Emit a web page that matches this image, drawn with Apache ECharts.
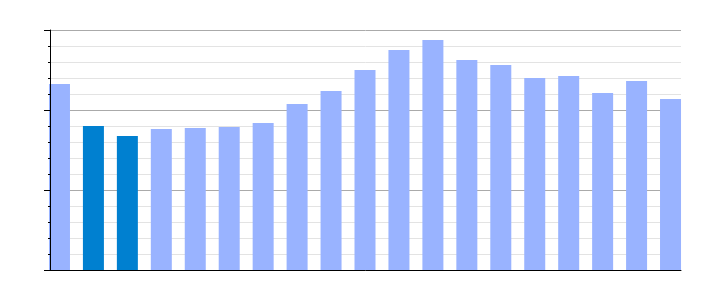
<!DOCTYPE html>
<html>
<head>
<meta charset="utf-8">
<script src="https://cdn.jsdelivr.net/npm/echarts@6/dist/echarts.min.js"></script>
<style>html,body{margin:0;padding:0;background:#fff;}#chart{width:710px;height:300px;}</style>
</head>
<body>
<div id="chart"></div>
<script>
const categories = ['1','2','3','4','5','6','7','8','9','10','11','12','13','14','15','16','17','18','19'];
const values = [2.325, 1.8, 1.675, 1.7625, 1.775, 1.7875, 1.8375, 2.075, 2.2375, 2.5, 2.75, 2.875, 2.625, 2.5625, 2.4, 2.425, 2.2125, 2.3625, 2.1375];
const highlighted = ['2', '3'];
const yTicks = [0, 1, 2, 3];

const baseColor = '#99B3FF';
const hiColor = '#0080D0';

const chart = echarts.init(document.getElementById('chart'), null, {renderer: 'canvas'});
chart.setOption({
  animation: false,
  grid: [
    {left: 42.5, right: 22.5, top: 30, bottom: 30},
    {left: 50, right: 29, top: 30, bottom: 30}
  ],
  xAxis: [
    {type: 'category', gridIndex: 0, data: categories, show: false},
    {type: 'value', gridIndex: 1, min: 0, max: 1, z: 5, position: 'bottom',
     axisLine: {show: true, onZero: false, lineStyle: {color: '#000', width: 1}},
     axisTick: {show: false}, axisLabel: {show: false}, splitLine: {show: false}}
  ],
  yAxis: [
    {type: 'value', gridIndex: 0, min: yTicks[0], max: yTicks[yTicks.length-1], show: false},
    {type: 'value', gridIndex: 1, position: 'left', min: yTicks[0], max: yTicks[yTicks.length-1], interval: 1, z: 0,
     axisLine: {show: false}, axisTick: {show: false}, axisLabel: {show: false},
     splitLine: {show: true, lineStyle: {color: '#aaaaaa', width: 1}},
     minorTick: {show: false, splitNumber: 5},
     minorSplitLine: {show: true, lineStyle: {color: '#e3e3e3', width: 1}}},
    {type: 'value', gridIndex: 1, position: 'left', offset: 0, min: yTicks[0], max: yTicks[yTicks.length-1], interval: 1, z: 5,
     axisLine: {show: true, onZero: false, lineStyle: {color: '#000', width: 1}},
     axisTick: {show: true, inside: false, length: 6, lineStyle: {color: '#000'}},
     minorTick: {show: true, splitNumber: 5, length: 2, lineStyle: {color: '#000'}},
     axisLabel: {show: false}, splitLine: {show: false}, minorSplitLine: {show: false}}
  ],
  series: [{
    type: 'bar',
    xAxisIndex: 0,
    yAxisIndex: 0,
    barWidth: 21,
    data: values.map((v, i) => ({
      value: v,
      itemStyle: {color: highlighted.includes(categories[i]) ? hiColor : baseColor}
    }))
  }]
});
</script>
</body>
</html>
